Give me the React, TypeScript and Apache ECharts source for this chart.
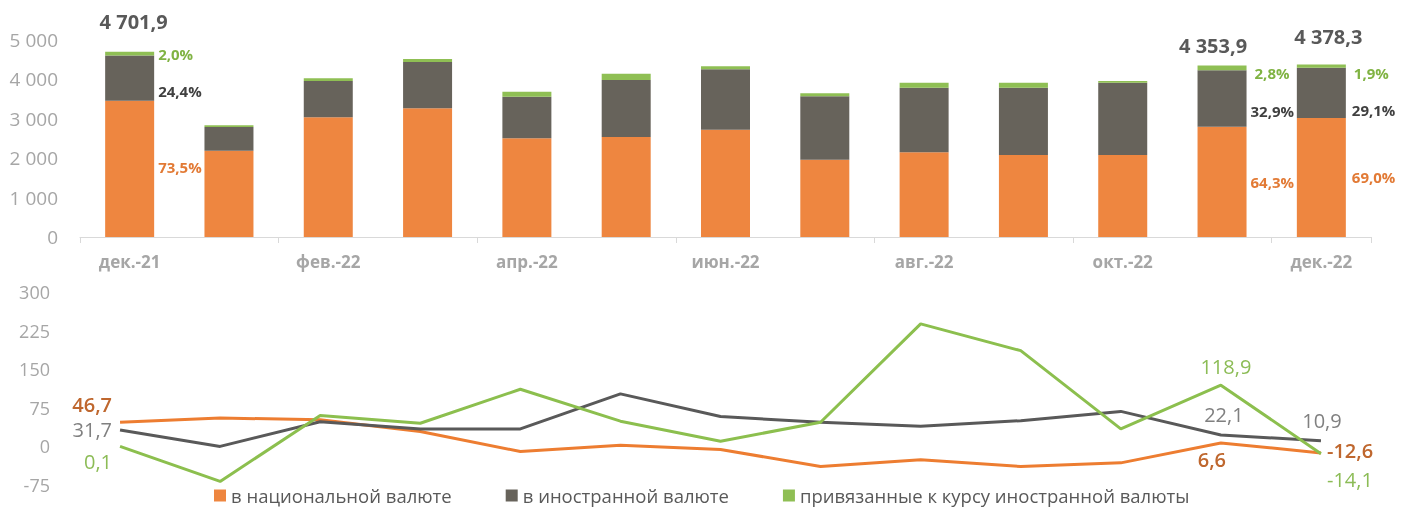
import React, { useEffect, useRef } from "react";
import * as echarts from "echarts";

const months = ["дек.-21", "янв.-22", "фев.-22", "мар.-22", "апр.-22", "май.-22", "июн.-22", "июл.-22", "авг.-22", "сен.-22", "окт.-22", "ноя.-22", "дек.-22"];
const seriesNames = ["в национальной валюте", "в иностранной валюте", "привязанные к курсу иностранной валюты"];

// Stock (top chart)
const nationalStock = [3456.7, 2190, 3038, 3266, 2505, 2538, 2723, 1962, 2150, 2081, 2081, 2799.6, 3021.0];
const foreignStock = [1149.2, 602, 921, 1176, 1056, 1447, 1533, 1609, 1639, 1708, 1835, 1432.4, 1274.1];
const peggedStock = [96.0, 43, 69, 76, 127, 160, 76, 76, 127, 127, 43, 121.9, 83.2];

// Growth, % (bottom chart)
const nationalGrowth = [46.7, 55, 52, 29, -10, 2, -6, -39, -26, -39, -32, 6.6, -12.6];
const foreignGrowth = [31.7, 0, 48, 34, 34, 102, 58, 47, 39, 50, 68, 22.1, 10.9];
const peggedGrowth = [0.1, -68, 60, 45, 111, 49, 10, 47, 238, 186, 34, 118.9, -14.1];

const stockAxis = { min: 0, max: 5000, interval: 1000 };
const growthAxis = { min: -75, max: 300, interval: 75 };

const labeledBars = [0, 11, 12];

const C = {
  orange: "#ee8640",
  gray: "#67635b",
  green: "#8fbf54",
  orangeLine: "#ed7d31",
  grayLine: "#595959",
  greenLine: "#8cbf4e",
  axisText: "#a6a6a6",
};
const FONT = "'Open Sans', 'Noto Sans', sans-serif";

const totals = months.map((_, i) => nationalStock[i] + foreignStock[i] + peggedStock[i]);

function fmtThousands(v: number, dec = 0) {
  const s = Math.abs(v).toFixed(dec);
  const [ip, fp] = s.split(".");
  const ig = ip.replace(/\B(?=(\d{3})+(?!\d))/g, " ");
  return (v < 0 ? "-" : "") + ig + (fp ? "," + fp : "");
}
const pct = (v: number, i: number) => ((v / totals[i]) * 100).toFixed(1).replace(".", ",") + "%";

// label placement per labeled bar index
const barLabelStyle: Record<string, Record<number, any>> = {
  national: { 0: { offset: [0, -2] }, 11: { offset: [0, 0] }, 12: { offset: [2, 0] } },
  foreign: { 0: { offset: [0, 13] }, 11: { offset: [0, 13] }, 12: { offset: [2, 17] } },
  pegged: { 0: { offset: [0, 0] }, 11: { offset: [4, 5] }, 12: { offset: [4, 7] } },
};

function barData(values: number[], key: string, color: string) {
  return values.map((v, i) => {
    if (!labeledBars.includes(i)) return v;
    return {
      value: v,
      label: {
        show: true,
        position: "right",
        distance: 4,
        color,
        fontWeight: "bold",
        fontSize: 15,
        fontFamily: FONT,
        formatter: (p: any) => pct(p.value, p.dataIndex),
        ...barLabelStyle[key][i],
      },
    };
  });
}

const totalLabelStyle: Record<number, any> = {
  0: { distance: 20, offset: [4, 0] },
  11: { distance: 10, offset: [-9, 0] },
  12: { distance: 18, offset: [7, 0] },
};

function totalData() {
  return totals.map((v, i) => {
    if (!labeledBars.includes(i)) return v;
    return {
      value: v,
      label: {
        show: true,
        position: "top",
        color: "#595959",
        fontWeight: "bold",
        fontSize: 20,
        fontFamily: FONT,
        formatter: (p: any) => fmtThousands(p.value, 1),
        ...totalLabelStyle[i],
      },
    };
  });
}

const lineLabelStyle: Record<string, Record<number, any>> = {
  national: {
    0: { position: "left", distance: 8, offset: [0, -18] },
    11: { position: "bottom", distance: 6, offset: [-9, 0] },
    12: { position: "right", distance: 6, offset: [0, -2] },
  },
  foreign: {
    0: { position: "left", distance: 8, offset: [0, -1] },
    11: { position: "top", distance: 11, offset: [3, 0] },
    12: { position: "top", distance: 10, offset: [1, 0] },
  },
  pegged: {
    0: { position: "left", distance: 8, offset: [0, 15] },
    11: { position: "top", distance: 9, offset: [5, 0] },
    12: { position: "right", distance: 6, offset: [0, 26] },
  },
};

function lineData(values: number[], key: string, color: string, bold: boolean) {
  return values.map((v, i) => {
    if (!labeledBars.includes(i)) return v;
    return {
      value: v,
      label: {
        show: true,
        color,
        fontSize: 20,
        fontWeight: bold ? 600 : "normal",
        fontFamily: FONT,
        formatter: (p: any) => String(p.value).replace(".", ","),
        ...lineLabelStyle[key][i],
      },
    };
  });
}

export default function App() {
  const ref = useRef<HTMLDivElement>(null);
  useEffect(() => {
    if (!ref.current) return;
    const chart = echarts.init(ref.current, undefined, { renderer: "svg" });
    const lineSeries = (name: string, data: any[], color: string) => ({
      name,
      type: "line",
      xAxisIndex: 1,
      yAxisIndex: 1,
      data,
      symbol: "circle",
      symbolSize: 0,
      showSymbol: true,
      lineStyle: { color, width: 3 },
      itemStyle: { color },
      z: 3,
    });
    chart.setOption({
      animation: false,
      textStyle: { fontFamily: FONT },
      grid: [
        { left: 80, right: 30, top: 40, height: 197 },
        { left: 70, right: 30, top: 292, height: 193 },
      ],
      legend: {
        data: seriesNames,
        left: 214,
        top: 486,
        padding: 0,
        icon: "rect",
        itemWidth: 12,
        itemHeight: 12,
        itemGap: 54,
        textStyle: { color: "#595959", fontSize: 18.5, lineHeight: 17, fontFamily: FONT },
      },
      xAxis: [
        {
          type: "category",
          gridIndex: 0,
          data: months,
          boundaryGap: true,
          axisLine: { lineStyle: { color: "#d9d9d9", width: 1 } },
          axisTick: { show: true, interval: 1, length: 6, lineStyle: { color: "#d9d9d9" } },
          axisLabel: { interval: 1, color: C.axisText, fontSize: 17, fontWeight: "bold", margin: 16, fontFamily: FONT },
          splitLine: { show: false },
        },
        {
          type: "category",
          gridIndex: 1,
          data: months,
          boundaryGap: true,
          show: false,
        },
      ],
      yAxis: [
        {
          type: "value",
          gridIndex: 0,
          ...stockAxis,
          axisLine: { show: false },
          axisTick: { show: false },
          splitLine: { show: false },
          axisLabel: { color: C.axisText, fontSize: 19, margin: 22, fontFamily: FONT, formatter: (v: number) => fmtThousands(v) },
        },
        {
          type: "value",
          gridIndex: 1,
          ...growthAxis,
          axisLine: { show: false },
          axisTick: { show: false },
          splitLine: { show: false },
          axisLabel: { color: C.axisText, fontSize: 18, margin: 20, fontFamily: FONT },
        },
      ],
      series: [
        {
          name: seriesNames[0],
          type: "bar",
          stack: "stock",
          xAxisIndex: 0,
          yAxisIndex: 0,
          barWidth: 49,
          itemStyle: { color: C.orange },
          data: barData(nationalStock, "national", "#e27a35"),
        },
        {
          name: seriesNames[1],
          type: "bar",
          stack: "stock",
          xAxisIndex: 0,
          yAxisIndex: 0,
          barWidth: 49,
          itemStyle: { color: C.gray },
          data: barData(foreignStock, "foreign", "#404040"),
        },
        {
          name: seriesNames[2],
          type: "bar",
          stack: "stock",
          xAxisIndex: 0,
          yAxisIndex: 0,
          barWidth: 49,
          itemStyle: { color: C.green },
          data: barData(peggedStock, "pegged", "#80b343"),
        },
        {
          name: "total",
          type: "line",
          xAxisIndex: 0,
          yAxisIndex: 0,
          symbol: "circle",
          symbolSize: 0,
          showSymbol: true,
          lineStyle: { color: "transparent", width: 0 },
          itemStyle: { color: "transparent" },
          silent: true,
          z: 5,
          data: totalData(),
        },
        lineSeries(seriesNames[0], lineData(nationalGrowth, "national", "#bf672e", true), C.orangeLine),
        lineSeries(seriesNames[1], lineData(foreignGrowth, "foreign", "#808080", false), C.grayLine),
        lineSeries(seriesNames[2], lineData(peggedGrowth, "pegged", "#8cbc56", false), C.greenLine),
      ],
    });
    return () => chart.dispose();
  }, []);
  return <div ref={ref} style={{ position: "fixed", left: 0, top: 0, width: 1401, height: 508 }} />;
}
